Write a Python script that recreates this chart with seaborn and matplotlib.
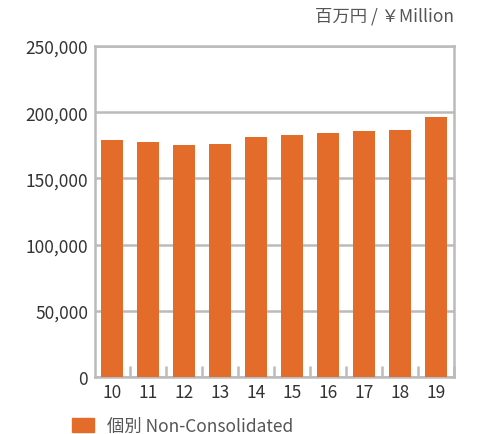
import numpy as np
import matplotlib
matplotlib.use('Agg')
import matplotlib.pyplot as plt
import matplotlib.patches as mpatches
import seaborn as sns

# ========== データ ==========
years = ['10', '11', '12', '13', '14', '15', '16', '17', '18', '19']
values = [179000, 177500, 175200, 176000, 181300, 182800, 184300, 185800, 186600, 196400]
series_label = '個別 Non-Consolidated'
unit_label = '百万円 / ￥Million'
y_ticks = [0, 50000, 100000, 150000, 200000, 250000]

bar_color = '#E46C2A'
grid_color = '#BBBBBB'

sns.set_theme(style='white')
plt.rcParams['font.family'] = ['Noto Sans CJK JP', 'DejaVu Sans']

fig = plt.figure(figsize=(4.8, 4.35), dpi=100)
ax = fig.add_axes([0.198, 0.131, 0.748, 0.761])

sns.barplot(x=years, y=values, color=bar_color, saturation=1, width=0.59,
            edgecolor='none', linewidth=0, ax=ax, zorder=3)

ax.set_ylim(0, 250000)
ax.set_xlim(-0.47, 9.47)
ax.set_yticks(y_ticks)
ax.set_yticklabels([f'{v:,}' for v in y_ticks])
ax.yaxis.grid(True, color=grid_color, linewidth=1.8, zorder=1)
ax.set_axisbelow(True)

for s in ax.spines.values():
    s.set_visible(True)
    s.set_color(grid_color)
    s.set_linewidth(1.8)

ax.tick_params(axis='both', which='major', length=0, labelsize=12.5, colors='#333333', pad=5)
ax.tick_params(axis='x', pad=4)
ax.set_xticks(np.arange(len(years)) + 0.5, minor=True)
ax.tick_params(axis='x', which='minor', bottom=True, direction='in', length=8, width=1.8,
               color=grid_color)
ax.set_xlabel('')
ax.set_ylabel('')

fig.text(0.946, 0.961, unit_label, ha='right', va='center', fontsize=12.5, color='#555555')

handle = mpatches.Patch(color=bar_color, label=series_label)
fig.legend(handles=[handle], loc='center left', bbox_to_anchor=(0.15, 0.019), frameon=False,
           fontsize=12.5, labelcolor='#555555', handlelength=1.27, handleheight=0.87,
           handletextpad=0.75, borderaxespad=0, borderpad=0)

fig.savefig('out.png', dpi=100)
